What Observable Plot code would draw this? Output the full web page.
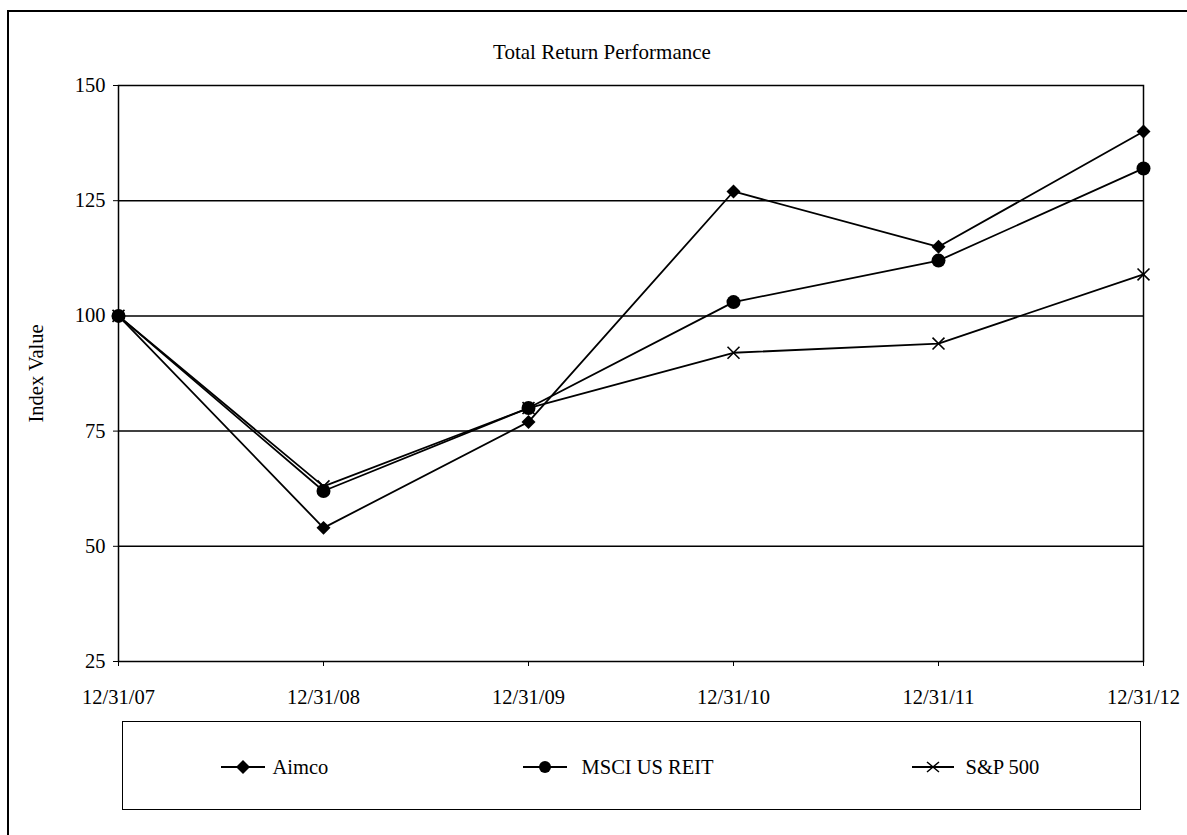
<!DOCTYPE html>
<html><head><meta charset="utf-8">
<script src="https://cdn.jsdelivr.net/npm/d3@7"></script>
<script src="https://cdn.jsdelivr.net/npm/@observablehq/plot@0.6"></script>
<style>
html,body{margin:0;padding:0;background:#fff;overflow:hidden;width:1187px;height:835px;}
body{position:relative;font-family:"Liberation Serif","Times New Roman",serif;color:#000;}
#frame{position:absolute;left:7px;top:10px;width:1300px;height:1000px;border-left:2px solid #000;border-top:2px solid #000;}
#title{position:absolute;left:0;top:40px;width:1204px;text-align:center;font-size:21px;line-height:24px;}
#chart{position:absolute;left:0;top:70px;}
#legend{position:absolute;left:122px;top:721px;width:1017px;height:87px;border:1.5px solid #000;}
.sw{position:absolute;top:37px;}
.lt{position:absolute;top:33px;font-size:20.5px;line-height:24px;white-space:nowrap;}
</style>
</head><body>
<div id="frame"></div>
<div id="title">Total Return Performance</div>
<div id="chart"></div>
<div id="legend"></div>
<script>
const dates = ["12/31/07","12/31/08","12/31/09","12/31/10","12/31/11","12/31/12"];
const seriesNames = ["Aimco","MSCI US REIT","S&P 500"];
const aimco = [100,54,77,127,115,140];
const msci = [100,62,80,103,112,132];
const sp500 = [100,63,80,92,94,109];
const yTicks = [25,50,75,100,125,150];

const values = [aimco, msci, sp500];
const rows = [];
seriesNames.forEach((s,i) => dates.forEach((d,j) => rows.push({series:s, date:d, value:values[i][j]})));
const bySeries = s => rows.filter(r => r.series === s);

const chart = Plot.plot({
  width: 1187, height: 645,
  marginTop: 15, marginBottom: 54, marginLeft: 118, marginRight: 44,
  style: {fontFamily: '"Liberation Serif","Times New Roman",serif', fontSize: "20.5px", color: "#000", background: "transparent", overflow: "visible"},
  x: {type: "point", domain: dates, padding: 0, label: null},
  y: {domain: [25,150], label: "Index Value"},
  marks: [
    Plot.ruleY(yTicks.slice(1, -1), {stroke: "#000", strokeWidth: 1.5}),
    Plot.frame({stroke: "#000", strokeWidth: 1.5}),
    Plot.axisX({tickSize: 5, tickPadding: 23, label: null, stroke: "#000"}),
    Plot.axisY({ticks: yTicks, tickSize: 5, tickPadding: 8, label: "Index Value", labelAnchor: "center", labelOffset: 90, labelArrow: false}),
    Plot.line(rows, {x: "date", y: "value", z: "series", stroke: "#000", strokeWidth: 1.8}),
    Plot.dot(bySeries("Aimco"), {x: "date", y: "value", symbol: "diamond2", r: 6.3, fill: "#000", stroke: "none"}),
    Plot.dot(bySeries("MSCI US REIT"), {x: "date", y: "value", symbol: "circle", r: 7, fill: "#000", stroke: "none"}),
    Plot.dot(bySeries("S&P 500"), {x: "date", y: "value", symbol: "times", r: 5.5, stroke: "#000", strokeWidth: 1.6, fill: "none"})
  ]
});
document.getElementById("chart").appendChild(chart);

// legend
const legend = document.getElementById("legend");
const items = [
  {name: seriesNames[0], line: 97.5, w: 44, text: 149.5, sym: "diamond"},
  {name: seriesNames[1], line: 399.5, w: 44, text: 458.5, sym: "circle"},
  {name: seriesNames[2], line: 788.5, w: 42, text: 842.5, sym: "times"}
];
items.forEach(it => {
  const c = it.w/2;
  let m = "";
  if (it.sym === "diamond") m = `<path d="M${c},1 L${c+7},8 L${c},15 L${c-7},8Z" fill="#000"/>`;
  else if (it.sym === "circle") m = `<circle cx="${c}" cy="8" r="6" fill="#000"/>`;
  else m = `<path d="M${c-6},3 L${c+6},13 M${c-6},13 L${c+6},3" stroke="#000" stroke-width="1.5"/>`;
  const sv = `<svg class="sw" style="left:${it.line}px" width="${it.w}" height="16"><line x1="0" y1="8" x2="${it.w}" y2="8" stroke="#000" stroke-width="1.8"/>${m}</svg>`;
  legend.insertAdjacentHTML("beforeend", sv + `<div class="lt" style="left:${it.text}px">${it.name.replace("&","&amp;")}</div>`);
});
</script>
</body></html>
